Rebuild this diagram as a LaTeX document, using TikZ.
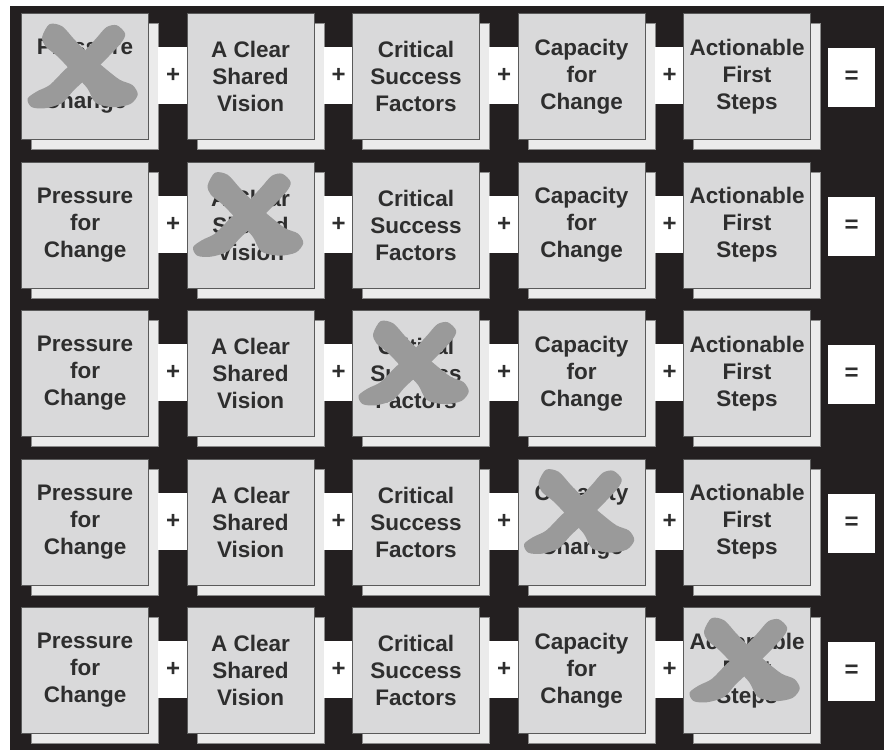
\documentclass[tikz,border=0pt]{standalone}
\usepackage{fontspec}
\setmainfont{Liberation Sans}
\definecolor{bg}{HTML}{231F20}
\definecolor{boxfill}{HTML}{D9D9DA}
\definecolor{boxline}{HTML}{5A5A5A}
\definecolor{shfill}{HTML}{EBEBEB}
\definecolor{shline}{HTML}{8A8A8A}
\definecolor{txt}{HTML}{2E2E2E}
\definecolor{xmark}{HTML}{9A9A9A}
\begin{document}
\begin{tikzpicture}[x=1pt,y=-1pt,
  front/.style={draw=boxline, fill=boxfill, line width=1.2pt, minimum width=127pt, minimum height=126pt, inner sep=0pt, anchor=north west, align=center, text=txt, font=\bfseries\fontsize{22.5}{27}\selectfont},
  shadowbox/.style={draw=shline, fill=shfill, line width=1pt, minimum width=127pt, minimum height=126pt, inner sep=0pt, anchor=north west},
  opbox/.style={fill=white, minimum width=30pt, minimum height=57pt, inner sep=0pt, anchor=north west, text=txt, font=\bfseries\fontsize{24}{24}\selectfont},
  eqbox/.style={fill=white, minimum width=47pt, minimum height=59pt, inner sep=0pt, anchor=north west, text=txt, font=\bfseries\fontsize{24}{24}\selectfont},
  xm/.style={fill=xmark}
]
\useasboundingbox (0,0) rectangle (884,750);
\fill[white] (0,0) rectangle (884,750);
\fill[bg] (10,6) rectangle (884,750);
\foreach \r in {0,...,4}{
  \pgfmathsetmacro{\ty}{13+148.5*\r}
  % shadows
  \foreach \c in {0,...,4}{
    \pgfmathsetmacro{\tx}{21+165.5*\c}
    \node[shadowbox] (s-\r-\c) at (\tx+10,\ty+10) {};
  }
  % plus boxes
  \foreach \c in {0,...,3}{
    \pgfmathsetmacro{\tx}{21+165.5*\c}
    \node[opbox] (p-\r-\c) at (\tx+137,\ty+34) {+};
  }
  \node[eqbox] (e-\r) at (828,\ty+35) {=};
  % fronts
  \foreach \c/\t in {0/{Pressure\\for\\Change},1/{A Clear\\Shared\\Vision},2/{Critical\\Success\\Factors},3/{Capacity\\for\\Change},4/{Actionable\\First\\Steps}}{
    \pgfmathsetmacro{\tx}{21+165.5*\c}
    \node[front] (f-\r-\c) at (\tx,\ty) {\t};
  }
  % X mark
  \begin{scope}[shift={(f-\r-\r.center)}, shift={(-3,-2)}, scale=1.05]
    \fill[xm] plot[smooth cycle] coordinates {(-38,-36) (-31,-48) (-19,-46) (-7,-33) (8,-18) (23,-5) (36,5) (48,10) (53,19) (46,28) (30,31) (13,27) (5,13) (-8,-1) (-23,-17) (-35,-27)};
    \fill[xm] plot[smooth cycle] coordinates {(23,-45) (33,-47) (41,-39) (37,-30) (22,-14) (7,1) (-8,15) (-19,27) (-35,32) (-48,31) (-52,23) (-43,16) (-31,10) (-17,-4) (-1,-19) (13,-34)};
  \end{scope}
}
\end{tikzpicture}
\end{document}
